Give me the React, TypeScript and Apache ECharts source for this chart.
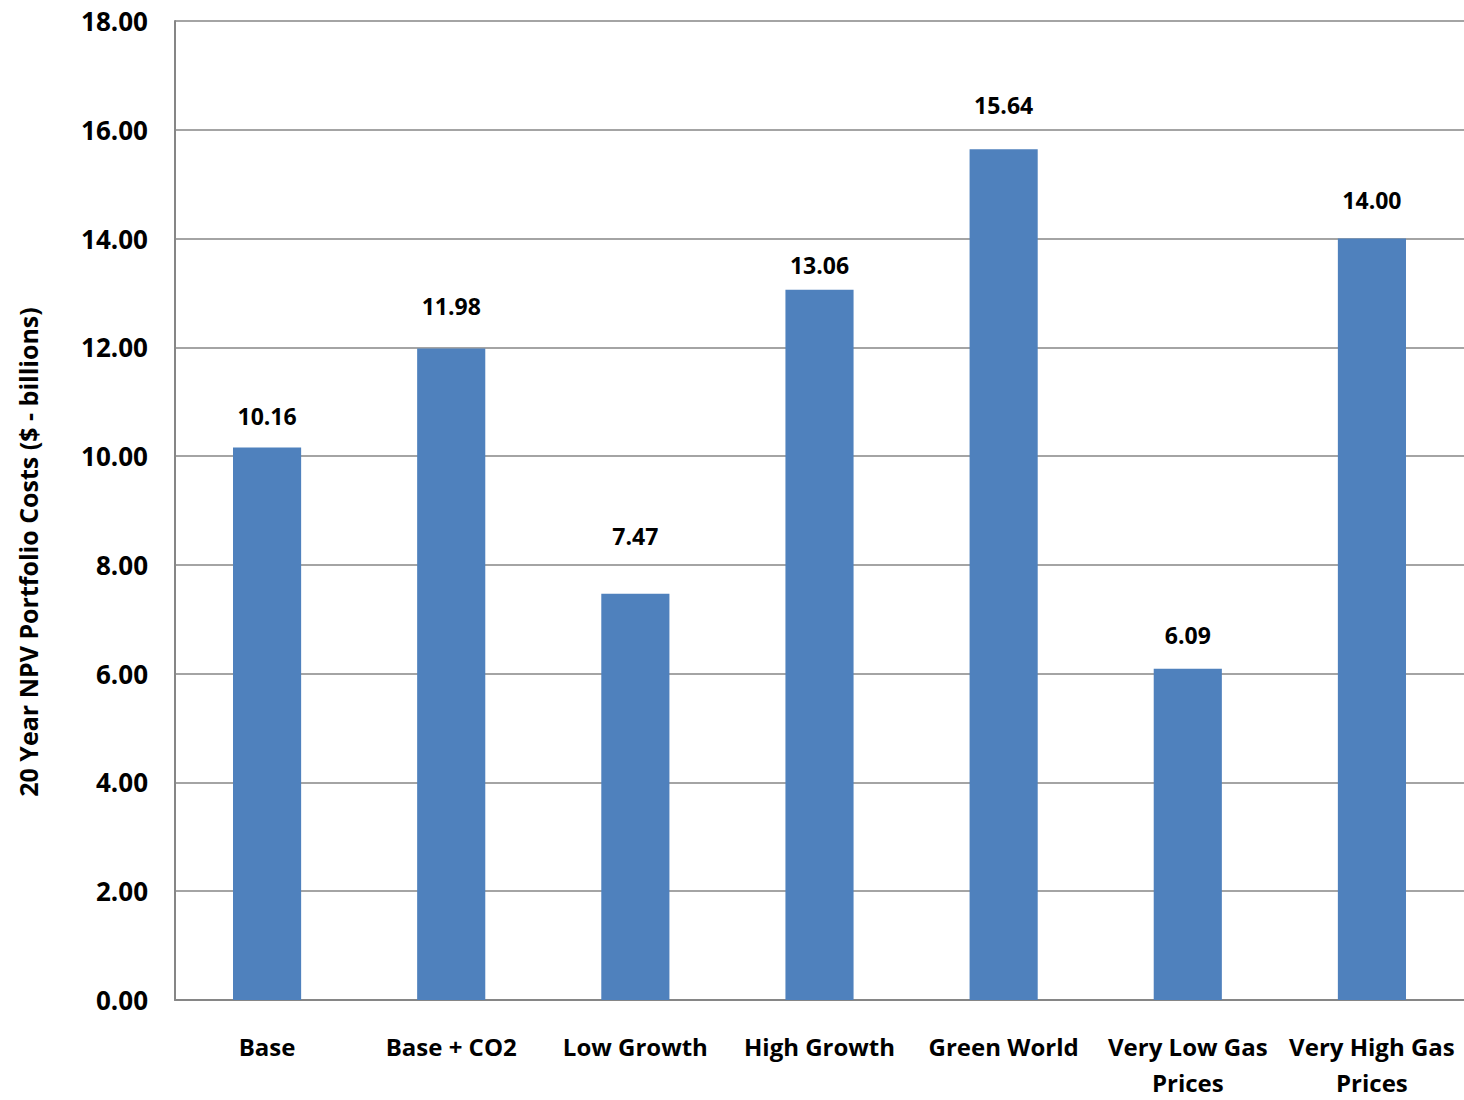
import React, { useEffect, useRef } from "react";
import * as echarts from "echarts";

const categories = ["Base", "Base + CO2", "Low Growth", "High Growth", "Green World", "Very Low Gas\nPrices", "Very High Gas\nPrices"];
const values = [10.16, 11.98, 7.47, 13.06, 15.64, 6.09, 14.0];
const yAxisTitle = "20 Year NPV Portfolio Costs ($ - billions)";
// vertical nudges of the data labels (placement style, in px)
const labelNudges = [-1, -12, -27, 6, -14, -3, -8];

const FONT = "'Open Sans'";

export default function App() {
  const ref = useRef<HTMLDivElement>(null);
  useEffect(() => {
    const chart = echarts.init(ref.current!, null, { renderer: "svg" });
    chart.setOption({
      animation: false,
      backgroundColor: "#ffffff",
      grid: { left: 175, top: 21, right: 0, bottom: 87, containLabel: false },
      xAxis: {
        type: "category",
        data: categories,
        axisLine: { show: true, lineStyle: { color: "#868686", width: 2 } },
        axisTick: { show: false },
        axisLabel: {
          color: "#000",
          fontFamily: FONT,
          fontWeight: "bold",
          fontSize: 24,
          margin: 28,
          lineHeight: 36,
          interval: 0,
        },
      },
      yAxis: {
        type: "value",
        min: 0,
        max: 18,
        interval: 2,
        axisLine: { show: true, lineStyle: { color: "#868686", width: 2 } },
        axisTick: { show: false },
        splitLine: { show: true, lineStyle: { color: "#868686", width: 1.5 } },
        axisLabel: {
          color: "#000",
          fontFamily: FONT,
          fontWeight: "bold",
          fontSize: 26,
          margin: 27,
          formatter: (v: number) => v.toFixed(2),
        },
      },
      graphic: [
        {
          type: "text",
          x: 28,
          y: 552,
          rotation: Math.PI / 2,
          style: {
            text: yAxisTitle,
            fill: "#000",
            font: `bold 25px ${FONT}`,
            textAlign: "center",
            textVerticalAlign: "middle",
          },
        },
      ],
      series: [
        {
          type: "bar",
          data: values.map((v, i) => ({
            value: v,
            label: { offset: [0, labelNudges[i]] },
          })),
          barWidth: "37%",
          itemStyle: { color: "#4F81BD" },
          label: {
            show: true,
            position: "top",
            distance: 19,
            color: "#000",
            fontFamily: FONT,
            fontWeight: "bold",
            fontSize: 23,
            formatter: (p: any) => Number(p.value).toFixed(2),
          },
        },
      ],
    });
    return () => chart.dispose();
  }, []);
  return <div ref={ref} style={{ position: "fixed", left: 0, top: 0, width: 1464, height: 1100 }} />;
}
